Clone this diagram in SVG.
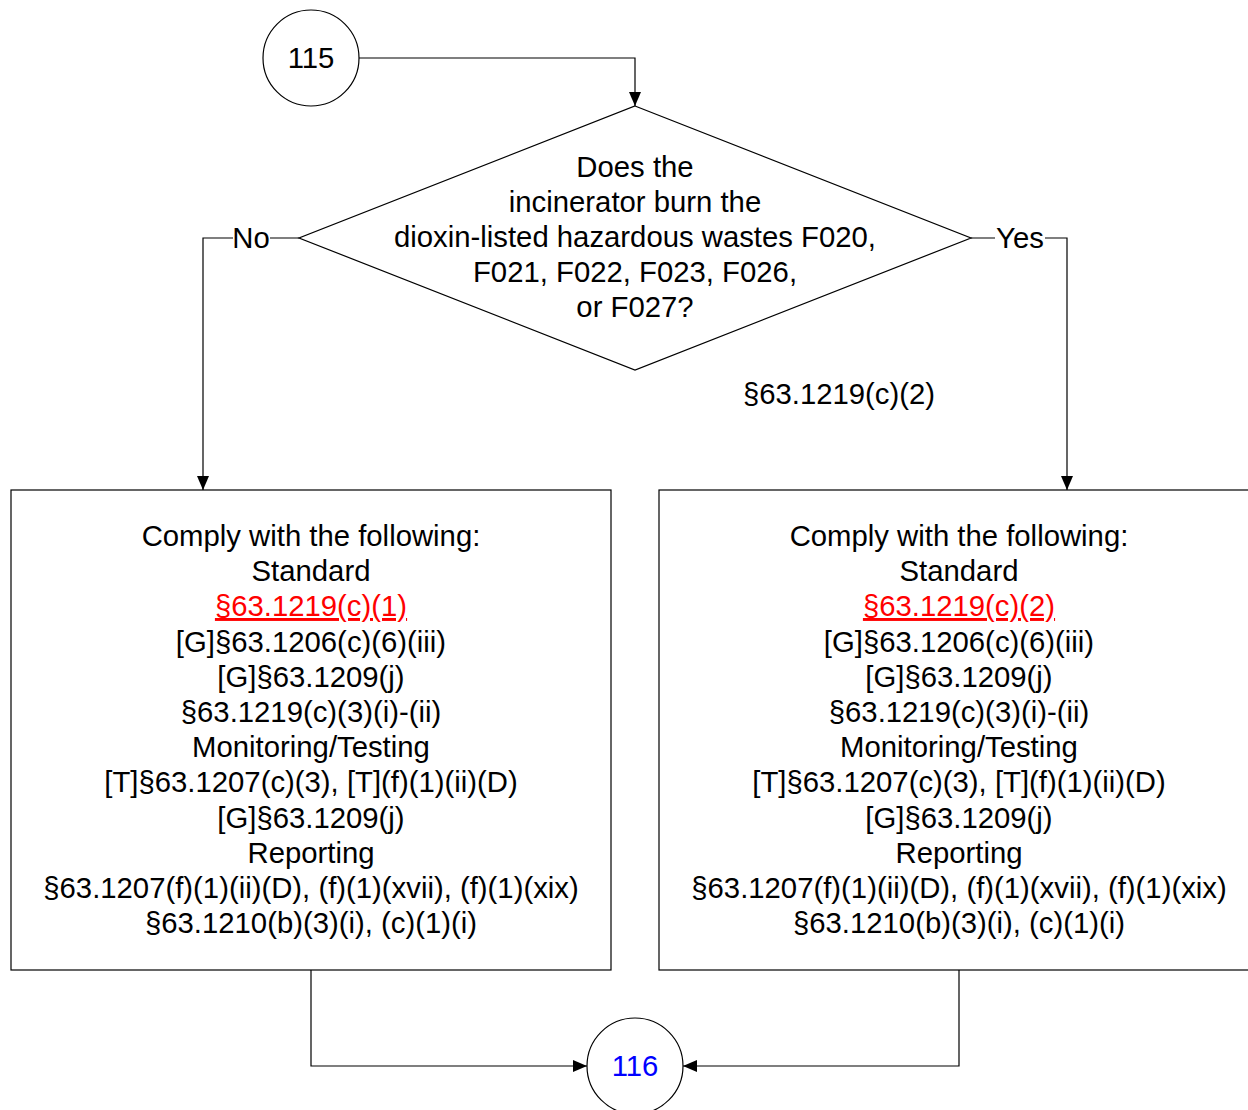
<svg xmlns="http://www.w3.org/2000/svg" width="1248" height="1110" viewBox="0 0 1248 1110">
<defs>
<marker id="arr" markerWidth="14" markerHeight="12" refX="14" refY="6" orient="auto" markerUnits="userSpaceOnUse">
<path d="M0,0 L14,6 L0,12 Z" fill="#000"/>
</marker>
<style>
text{font-family:"Liberation Sans",Arial,sans-serif;font-size:29.3px;fill:#000;text-anchor:middle}
.shape{fill:#fff;stroke:#000;stroke-width:1.2}
.conn{fill:none;stroke:#000;stroke-width:1.2}
.link{fill:#ff0000;text-decoration:underline}
.blue{fill:#0000ff}
</style>
</defs>
<rect width="1248" height="1110" fill="#fff"/>
<g id="connectors">
<path class="conn" d="M359,58 H635 V106" marker-end="url(#arr)"/>
<path class="conn" d="M299,238 H270 M233,238 H203 V490" marker-end="url(#arr)"/>
<path class="conn" d="M971,238 H995 M1045,238 H1067 V490" marker-end="url(#arr)"/>
<path class="conn" d="M311,970 V1066 H587" marker-end="url(#arr)"/>
<path class="conn" d="M959,970 V1066 H683" marker-end="url(#arr)"/>
<text x="251" y="248">No</text>
<text x="1020" y="248">Yes</text>
<text x="839" y="404">§63.1219(c)(2)</text>
</g>
<g id="node115">
<circle class="shape" cx="311" cy="58" r="48"/>
<text x="311" y="68">115</text>
</g>
<g id="decision">
<polygon class="shape" points="635,106 971,238 635,370 299,238"/>
<text x="635" y="177">Does the</text>
<text x="635" y="212">incinerator burn the</text>
<text x="635" y="247">dioxin-listed hazardous wastes F020,</text>
<text x="635" y="282">F021, F022, F023, F026,</text>
<text x="635" y="317">or F027?</text>
</g>
<g id="boxNo">
<rect class="shape" x="11" y="490" width="600" height="480"/>
<text x="311" y="546">Comply with the following:</text>
<text x="311" y="581">Standard</text>
<text x="311" y="616" class="link">§63.1219(c)(1)</text>
<text x="311" y="652">[G]§63.1206(c)(6)(iii)</text>
<text x="311" y="687">[G]§63.1209(j)</text>
<text x="311" y="722">§63.1219(c)(3)(i)-(ii)</text>
<text x="311" y="757">Monitoring/Testing</text>
<text x="311" y="792">[T]§63.1207(c)(3), [T](f)(1)(ii)(D)</text>
<text x="311" y="828">[G]§63.1209(j)</text>
<text x="311" y="863">Reporting</text>
<text x="311" y="898">§63.1207(f)(1)(ii)(D), (f)(1)(xvii), (f)(1)(xix)</text>
<text x="311" y="933">§63.1210(b)(3)(i), (c)(1)(i)</text>
</g>
<g id="boxYes">
<rect class="shape" x="659" y="490" width="600" height="480"/>
<text x="959" y="546">Comply with the following:</text>
<text x="959" y="581">Standard</text>
<text x="959" y="616" class="link">§63.1219(c)(2)</text>
<text x="959" y="652">[G]§63.1206(c)(6)(iii)</text>
<text x="959" y="687">[G]§63.1209(j)</text>
<text x="959" y="722">§63.1219(c)(3)(i)-(ii)</text>
<text x="959" y="757">Monitoring/Testing</text>
<text x="959" y="792">[T]§63.1207(c)(3), [T](f)(1)(ii)(D)</text>
<text x="959" y="828">[G]§63.1209(j)</text>
<text x="959" y="863">Reporting</text>
<text x="959" y="898">§63.1207(f)(1)(ii)(D), (f)(1)(xvii), (f)(1)(xix)</text>
<text x="959" y="933">§63.1210(b)(3)(i), (c)(1)(i)</text>
</g>
<g id="node116">
<circle class="shape" cx="635" cy="1066" r="48"/>
<text x="635" y="1076" class="blue">116</text>
</g>
</svg>
